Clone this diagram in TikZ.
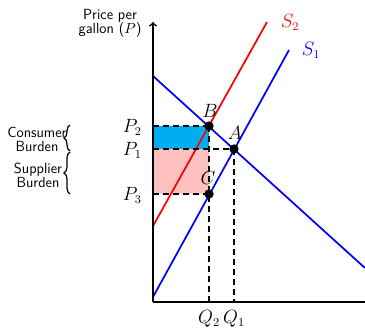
\documentclass[tikz,border=0pt]{standalone}
\usetikzlibrary{decorations.pathreplacing}
\definecolor{cburden}{RGB}{0,174,239}
\definecolor{sburden}{RGB}{255,192,192}
\definecolor{sone}{RGB}{0,0,255}
\definecolor{stwo}{RGB}{255,0,0}
\begin{document}
\begin{tikzpicture}[x=0.75pt,y=-0.75pt,
  axisline/.style={line width=1.2pt},
  curve/.style={line width=1.3pt},
  guide/.style={line width=1.2pt,dash pattern=on 4.5pt off 3pt},
  dot/.style={circle,fill=black,inner sep=0pt,minimum size=7pt},
  mlab/.style={inner sep=0pt,font=\fontsize{13.5}{15}\selectfont},
  lab/.style={font=\sffamily\fontsize{11}{10.5}\selectfont,align=center,inner sep=0pt},
  brace/.style={decorate,decoration={brace,amplitude=4.5pt},line width=0.9pt}]
\useasboundingbox (0,0) rectangle (365,329);
% areas
\fill[cburden] (153,126) rectangle (209,149);
\fill[sburden] (153,149) rectangle (209,194);
% points
\coordinate (O) at (153,302);
\coordinate (Ytop) at (153,22);
\coordinate (Xend) at (365,302);
\coordinate (P2) at (153,126);
\coordinate (P1) at (153,149);
\coordinate (P3) at (153,194);
\coordinate (Q2) at (209,302);
\coordinate (Q1) at (234,302);
\coordinate (D0) at (153,76);
\coordinate (D1) at (365,268);
\coordinate (Sa0) at (153,297);
\coordinate (Sa1) at (289,50);
\coordinate (Sb0) at (153,226);
\coordinate (Sb1) at (267,22);
% supply and demand curves
\draw[curve,sone] (D0) -- (D1);
\draw[curve,sone] (Sa0) -- (Sa1);
\draw[curve,stwo] (Sb0) -- (Sb1);
% axes
\draw[axisline,->] (O) -- (Ytop);
\draw[axisline] (O) -- (Xend);
% dots
\node[dot] (B) at (209,126) {};
\node[dot] (A) at (234,149) {};
\node[dot] (C) at (209,194) {};
% guides
\draw[guide] (P2) -- (B.center);
\draw[guide] (P1) -- (A.center);
\draw[guide] (P3) -- (C.center);
\draw[guide] (B.center) -- (Q2);
\draw[guide] (A.center) -- (Q1);
% labels
\node[mlab] (Blab) at (210,111) {$B$};
\node[mlab] (Alab) at (235,133) {$A$};
\node[mlab] (Clab) at (208,178) {$C$};
\node[mlab,anchor=east] (P2lab) at (142,127) {$P_2$};
\node[mlab,anchor=east] (P1lab) at (142,150) {$P_1$};
\node[mlab,anchor=east] (P3lab) at (142,195) {$P_3$};
\node[mlab] (Q2lab) at (209,319) {$Q_2$};
\node[mlab] (Q1lab) at (234,319) {$Q_1$};
\node[mlab,stwo] (S2lab) at (290,22) {$S_2$};
\node[mlab,sone] (S1lab) at (311,50) {$S_1$};
\node[lab] (ylab) at (110,23) {Price per\\gallon ($P$)};
% burdens
\coordinate (b1top) at (70,125);
\coordinate (b1bot) at (70,151);
\coordinate (b2top) at (70,152);
\coordinate (b2bot) at (70,194);
\draw[brace] (b1bot) -- (b1top);
\draw[brace] (b2bot) -- (b2top);
\node[lab] (cons) at (37,139) {Consumer\\Burden};
\node[lab] (supp) at (38,175) {Supplier\\Burden};
\end{tikzpicture}
\end{document}
